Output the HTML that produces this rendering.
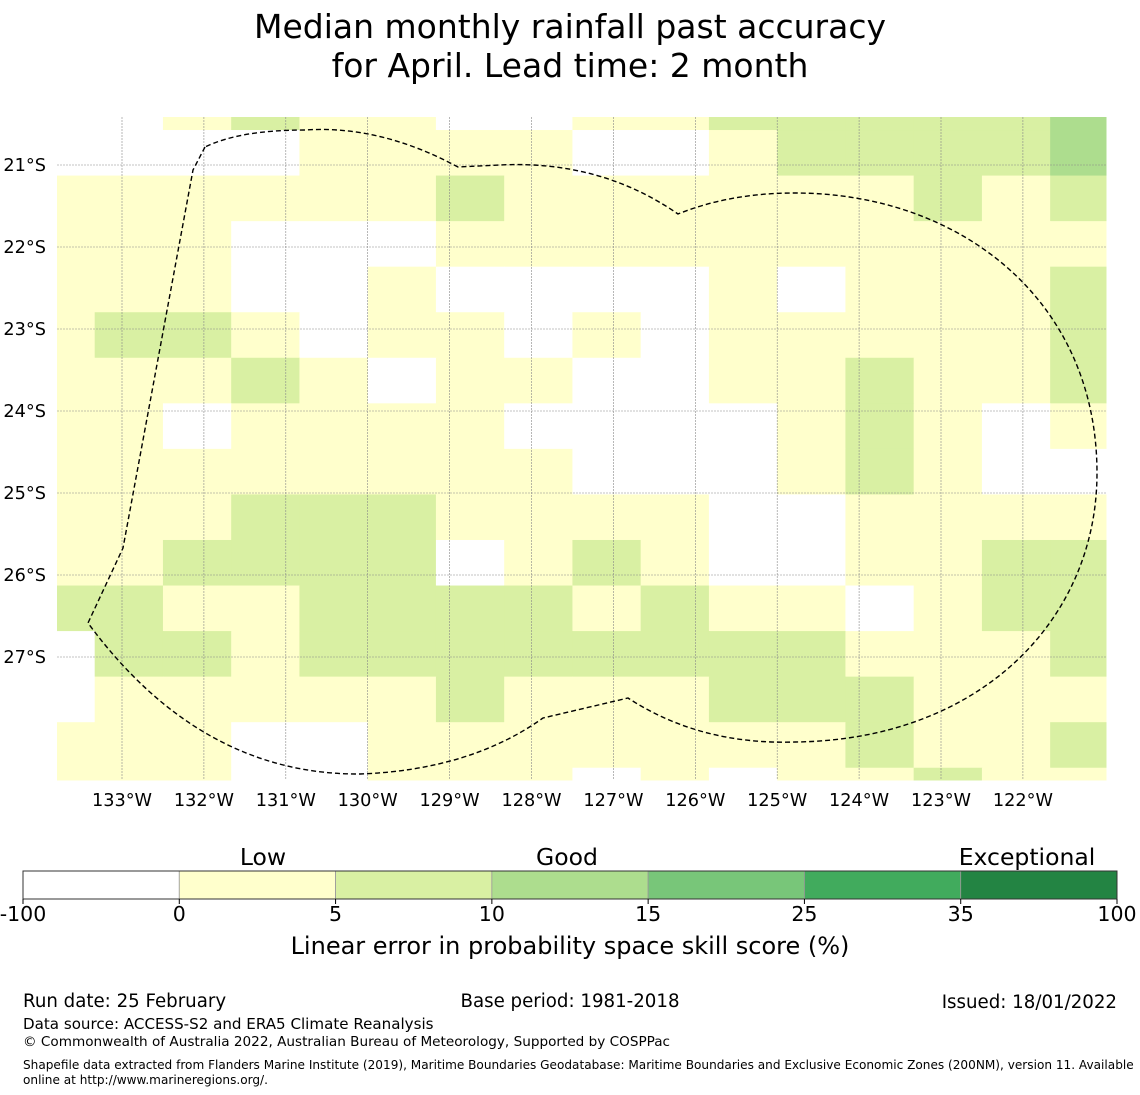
<!DOCTYPE html>
<html><head><meta charset="utf-8"><style>
body{margin:0;background:#fff;}
svg{display:block;font-family:"DejaVu Sans","Liberation Sans",sans-serif;}
</style></head><body>
<svg id="chart" width="1140" height="1095" viewBox="0 0 1140 1095">
<text x="570" y="38" font-size="33" text-anchor="middle">Median monthly rainfall past accuracy</text>
<text x="570" y="77" font-size="33" text-anchor="middle">for April. Lead time: 2 month</text>
<g id="cells"></g>
<g id="grid"></g>
<path d="M205,147 L193,170 L123,548 L88,623 Q200,775 360,774 Q470,770 543,718 L628,698 Q700,745 795,742 C980,740 1097,620 1097,473 C1097,300 960,193 795,193 Q730,193 678,214 Q600,160 500,165 L458,167 Q380,125 305,130 Q240,130 205,147 Z" fill="none" stroke="#000" stroke-width="1.4" stroke-dasharray="5,3"/>
<g id="xticks"></g>
<g id="yticks"></g>
<g id="cbar"></g>
<text x="263" y="865" font-size="23.5" text-anchor="middle">Low</text>
<text x="567" y="865" font-size="23.5" text-anchor="middle">Good</text>
<text x="1027" y="865" font-size="23.5" text-anchor="middle">Exceptional</text>
<text x="570" y="954" font-size="24" text-anchor="middle">Linear error in probability space skill score (%)</text>
<text x="23" y="1007" font-size="18.2">Run date: 25 February</text>
<text x="570" y="1007" font-size="18.2" text-anchor="middle">Base period: 1981-2018</text>
<text x="1117" y="1008" font-size="18.2" text-anchor="end">Issued: 18/01/2022</text>
<text x="23" y="1029" font-size="15.1">Data source: ACCESS-S2 and ERA5 Climate Reanalysis</text>
<text x="23" y="1046" font-size="13.6">© Commonwealth of Australia 2022, Australian Bureau of Meteorology, Supported by COSPPac</text>
<text x="23" y="1069" font-size="12.1">Shapefile data extracted from Flanders Marine Institute (2019), Maritime Boundaries Geodatabase: Maritime Boundaries and Exclusive Economic Zones (200NM), version 11. Available</text>
<text x="23" y="1084" font-size="12.1">online at http://www.marineregions.org/.</text>
</svg>
<script>
// skill score values per cell (rows north->south, cols west->east)
const rowA = [-5,-5,2,7,2,2,-5,-5,2,2,7,7,7,7,7,12];
const rowB = [-5,-5,-5,-5,2,2,2,2,-5,-5,2,7,7,7,7,12];
const rowC = [2,2,2,2,2,2,7,2,2,2,2,2,2,7,2,7];
const rowD = [2,2,2,-5,-5,-5,2,2,2,2,2,2,2,2,2,2];
const rowE = [2,2,2,-5,-5,2,-5,-5,-5,-5,2,-5,2,2,2,7];
const rowF = [2,7,7,2,-5,2,2,-5,2,-5,2,2,2,2,2,7];
const rowG = [2,2,2,7,2,-5,2,2,-5,-5,2,2,7,2,2,7];
const rowH = [2,2,-5,2,2,2,2,-5,-5,-5,-5,2,7,2,-5,2];
const rowI = [2,2,2,2,2,2,2,2,-5,-5,-5,2,7,2,-5,-5];
const rowJ = [2,2,2,7,7,7,2,2,2,2,-5,-5,2,2,2,2];
const rowK = [2,2,7,7,7,7,-5,2,7,2,-5,-5,2,2,7,7];
const rowL = [7,7,2,2,7,7,7,7,2,7,2,2,-5,2,7,7];
const rowM = [-5,7,7,2,7,7,7,7,7,7,7,7,2,2,2,7];
const rowN = [-5,2,2,2,2,2,7,2,2,2,7,7,7,2,2,2];
const rowO = [2,2,2,-5,-5,2,2,2,2,2,2,2,7,2,2,7];
const rowP = [2,2,2,-5,-5,2,2,2,-5,2,-5,2,2,7,2,2];
const rows = [rowA,rowB,rowC,rowD,rowE,rowF,rowG,rowH,rowI,rowJ,rowK,rowL,rowM,rowN,rowO,rowP];
const lonTicks = [133,132,131,130,129,128,127,126,125,124,123,122];
const latTicks = [21,22,23,24,25,26,27];
const cbarBounds = [-100,0,5,10,15,25,35,100];
const cbarColors = ["#ffffff","#ffffcc","#d9f0a3","#addd8e","#78c679","#41ab5d","#238443"];

const NS="http://www.w3.org/2000/svg";
const PX0=57,PX1=1106,PY0=117,PY1=780;
function xOf(lonW){return 122+(133-lonW)*81.9;}
function yOf(latS){return 165+(latS-21)*82;}
const cellLon0=134.1667, cellDLon=0.8333, cellLat0=20.018, cellDLat=0.5555;
function colorFor(v){for(let i=0;i<cbarBounds.length-1;i++){if(v<cbarBounds[i+1])return cbarColors[i];}return cbarColors[cbarColors.length-1];}
function mk(tag,attrs,parent){const e=document.createElementNS(NS,tag);for(const k in attrs)e.setAttribute(k,attrs[k]);parent.appendChild(e);return e;}

const gc=document.getElementById('cells');
rows.forEach((row,r)=>{row.forEach((v,c)=>{
  let x0=Math.max(PX0,xOf(cellLon0-c*cellDLon)), x1=Math.min(PX1,xOf(cellLon0-(c+1)*cellDLon));
  let y0=Math.max(PY0,yOf(cellLat0+r*cellDLat)), y1=Math.min(PY1,yOf(cellLat0+(r+1)*cellDLat));
  if(x1<=x0||y1<=y0)return;
  const e=mk('rect',{x:x0,y:y0,width:x1-x0+0.5,height:y1-y0+0.5,fill:colorFor(v)},gc);
  
  
});});

const gg=document.getElementById('grid'), gx=document.getElementById('xticks'), gy=document.getElementById('yticks');
lonTicks.forEach(l=>{
  const x=xOf(l);
  const ln=mk('line',{x1:x,x2:x,y1:PY0,y2:PY1,stroke:"#888",'stroke-width':0.6,'stroke-dasharray':"2,1"},gg);
  
  
  const t=mk('text',{x:x,y:806,'font-size':17.7,'text-anchor':'middle'},gx);
  t.textContent=l+"°W";
  
  
});
latTicks.forEach(l=>{
  const y=yOf(l);
  const ln=mk('line',{x1:PX0,x2:PX1,y1:y,y2:y,stroke:"#888",'stroke-width':0.6,'stroke-dasharray':"2,1"},gg);
  
  
  const t=mk('text',{x:46,y:y+6,'font-size':17.7,'text-anchor':'end'},gy);
  t.textContent=l+"°S";
  
  
});

const cb=document.getElementById('cbar');
const CB0=23,CB1=1117,CBY=871,CBH=28,seg=(CB1-CB0)/cbarColors.length;
cbarColors.forEach((col,i)=>{
  const e=mk('rect',{x:CB0+i*seg,y:CBY,width:seg,height:CBH,fill:col,stroke:"#999",'stroke-width':0.8},cb);
  
  
});
const frame=mk('rect',{x:CB0,y:CBY,width:CB1-CB0,height:CBH,fill:"none",stroke:"#333",'stroke-width':1},cb);


cbarBounds.forEach((b,i)=>{
  const x=CB0+i*seg;
  const tk=mk('line',{x1:x,x2:x,y1:CBY+CBH,y2:CBY+CBH+5,stroke:"#000",'stroke-width':1},cb);
  
  
  const t=mk('text',{x:x,y:921,'font-size':20.5,'text-anchor':'middle'},cb);
  t.textContent=b;
  
  
});
</script>
</body></html>
